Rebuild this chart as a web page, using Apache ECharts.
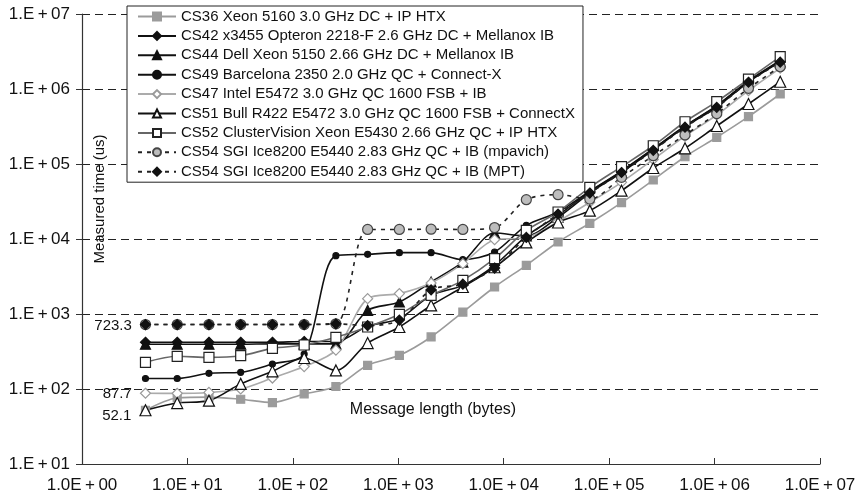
<!DOCTYPE html>
<html>
<head>
<meta charset="utf-8">
<script src="https://cdn.jsdelivr.net/npm/echarts@6/dist/echarts.min.js"></script>
<style>
  html, body { margin: 0; padding: 0; background: #fff; }
  #chart { width: 864px; height: 497px; }
</style>
</head>
<body>
<div id="chart"></div>
<script>
// Message sizes in bytes (2^2 .. 2^22)
const sizes = [4, 8, 16, 32, 64, 128, 256, 512, 1024, 2048, 4096, 8192, 16384, 32768,
  65536, 131072, 262144, 524288, 1048576, 2097152, 4194304];

// Measured times in microseconds, one array per system
const cs36 = [52.1, 76, 78, 73, 66, 86, 108, 207, 281, 494, 1060, 2290, 4460, 9120,
  16200, 30500, 61200, 125000, 227000, 428000, 858000];
const cs42 = [420, 420, 420, 420, 420, 430, 430, 686, 867, 1770, 2410, 4460, 10900, 20700,
  42700, 79000, 158000, 318000, 590000, 1260000, 2350000];
const cs44 = [395, 395, 395, 395, 400, 400, 400, 1120, 1445, 2670, 4930, 12000, 11000, 19500,
  41000, 77000, 154000, 312000, 575000, 1240000, 2300000];
const cs49 = [138, 138, 162, 167, 215, 293, 6000, 6250, 6580, 6580, 5300, 6710, 15200, 22900,
  43500, 80500, 160000, 322000, 600000, 1280000, 2400000];
const cs47 = [87.7, 87.5, 90, 100, 140, 199, 330, 1600, 1870, 2590, 4690, 9800, 10400, 17200,
  30800, 57000, 115000, 235000, 450000, 950000, 1900000];
const cs51 = [52.1, 65, 70, 117, 172, 259, 177, 410, 671, 1300, 2290, 4200, 9000, 16600,
  23900, 44100, 88500, 162000, 321000, 631000, 1250000];
const cs52 = [227, 273, 264, 278, 348, 386, 489, 671, 990, 1770, 2810, 5470, 13000, 22900,
  48800, 92100, 175000, 366000, 678000, 1350000, 2700000];
const cs54mpavich = [723.3, 723.3, 723.3, 723.3, 723.3, 723.3, 740, 13400, 13400, 13500, 13400, 14200, 33400, 39000,
  34100, 66400, 129000, 244000, 470000, 1020000, 1980000];
const cs54mpt = [723.3, 723.3, 723.3, 723.3, 723.3, 723.3, 740, 700, 830, 2100, 2500, 4100, 10500, 21500,
  41000, 77000, 152000, 310000, 570000, 1230000, 2280000];

const names = [
  'CS36 Xeon 5160 3.0 GHz DC + IP HTX',
  'CS42 x3455 Opteron 2218-F 2.6 GHz DC + Mellanox IB',
  'CS44 Dell Xeon 5150 2.66 GHz DC + Mellanox IB',
  'CS49 Barcelona 2350 2.0 GHz QC + Connect-X',
  'CS47 Intel E5472 3.0 GHz QC 1600 FSB + IB',
  'CS51 Bull R422 E5472 3.0 GHz QC 1600 FSB + ConnectX',
  'CS52 ClusterVision Xeon E5430 2.66 GHz QC + IP HTX',
  'CS54 SGI Ice8200 E5440 2.83 GHz QC + IB (mpavich)',
  'CS54 SGI Ice8200 E5440 2.83 GHz QC + IB (MPT)'
];

// Tick labels (thin spaces around the plus sign)
const yTicks = ['1.E\u2009+\u200901', '1.E\u2009+\u200902', '1.E\u2009+\u200903', '1.E\u2009+\u200904',
  '1.E\u2009+\u200905', '1.E\u2009+\u200906', '1.E\u2009+\u200907'];
const xTicks = ['1.0E\u2009+\u200900', '1.0E\u2009+\u200901', '1.0E\u2009+\u200902', '1.0E\u2009+\u200903',
  '1.0E\u2009+\u200904', '1.0E\u2009+\u200905', '1.0E\u2009+\u200906', '1.0E\u2009+\u200907'];

const FONT = '"Liberation Sans", Arial, sans-serif';

// Pair sizes with values; optionally tag the first point with a value label
function pts(values, labelOffset) {
  return values.map((v, i) => {
    if (i === 0 && labelOffset) {
      return {
        value: [sizes[i], v],
        label: {
          show: true, position: 'left', distance: 8, offset: labelOffset,
          formatter: p => String(p.value[1]),
          color: '#111', fontSize: 15, fontFamily: FONT
        }
      };
    }
    return [sizes[i], v];
  });
}

function line(name, data, o) {
  return {
    name, type: 'line', data, smooth: 0.3,
    symbol: o.symbol, symbolSize: o.size,
    lineStyle: { color: o.line, width: o.width || 1.6, type: o.dash ? [4, 5] : 'solid' },
    itemStyle: { color: o.fill, borderColor: o.border, borderWidth: o.bw || 1.2 },
    emphasis: { disabled: true },
    z: o.z || 2
  };
}

const series = [
  line(names[0], pts(cs36), { symbol: 'rect', size: 8, line: '#9b9b9b', fill: '#9b9b9b', border: '#9b9b9b' }),
  line(names[1], pts(cs42), { symbol: 'diamond', size: 10, line: '#111', fill: '#111', border: '#111' }),
  line(names[2], pts(cs44), { symbol: 'triangle', size: 10, line: '#111', fill: '#111', border: '#111' }),
  line(names[3], pts(cs49), { symbol: 'circle', size: 6, line: '#111', fill: '#111', border: '#111' }),
  line(names[4], pts(cs47, [0, 1]), { symbol: 'diamond', size: 10, line: '#ababab', fill: '#fff', border: '#9a9a9a' }),
  line(names[5], pts(cs51, [0, 6]), { symbol: 'triangle', size: 11, line: '#111', fill: '#fff', border: '#111' }),
  line(names[6], pts(cs52), { symbol: 'rect', size: 10, line: '#666', fill: '#fff', border: '#222' }),
  line(names[7], pts(cs54mpavich), { symbol: 'circle', size: 10, line: '#222', fill: '#bdbdbd', border: '#444', dash: true }),
  line(names[8], pts(cs54mpt, [0, 1]), { symbol: 'diamond', size: 10, line: '#222', fill: '#111', border: '#111', dash: true })
];

const chart = echarts.init(document.getElementById('chart'), null, { renderer: 'canvas' });
chart.setOption({
  animation: false,
  backgroundColor: '#fff',
  textStyle: { fontFamily: FONT },
  grid: { left: 82, right: 44, top: 14, bottom: 33, containLabel: false },
  legend: {
    orient: 'vertical', left: 127, top: 6,
    itemWidth: 38, itemHeight: 10, itemGap: 4.4,
    padding: [3, 8, 3, 10],
    borderColor: '#222', borderWidth: 1, backgroundColor: '#fff',
    textStyle: { fontSize: 15, lineHeight: 14, color: '#111', fontFamily: FONT },
    data: names, selectedMode: false
  },
  xAxis: {
    type: 'log', logBase: 10, min: 1, max: 1e7,
    axisLine: { lineStyle: { color: '#333', width: 1.2 } },
    axisTick: { inside: true, length: 6, lineStyle: { color: '#333' } },
    axisLabel: {
      fontSize: 17, color: '#111', margin: 13, fontFamily: FONT,
      formatter: v => xTicks[Math.round(Math.log10(v))]
    },
    splitLine: { show: false }
  },
  yAxis: {
    type: 'log', logBase: 10, min: 10, max: 1e7,
    axisLine: { show: true, lineStyle: { color: '#333', width: 1.2 } },
    axisTick: { show: true, inside: false, length: 6, lineStyle: { color: '#333' } },
    axisLabel: {
      fontSize: 17, color: '#111', margin: 12, fontFamily: FONT,
      formatter: v => yTicks[Math.round(Math.log10(v)) - 1]
    },
    splitLine: { show: true, lineStyle: { color: '#222', width: 1, type: [8, 5] } }
  },
  graphic: [
    {
      type: 'text', x: 100, y: 199, rotation: Math.PI / 2,
      style: { text: 'Measured time (us)', fill: '#111', font: '15px ' + FONT, textAlign: 'center', textVerticalAlign: 'middle' }
    },
    {
      type: 'text', x: 433, y: 410,
      style: { text: 'Message length (bytes)', fill: '#111', font: '16px ' + FONT, textAlign: 'center', textVerticalAlign: 'middle' }
    }
  ],
  series
});
</script>
</body>
</html>
